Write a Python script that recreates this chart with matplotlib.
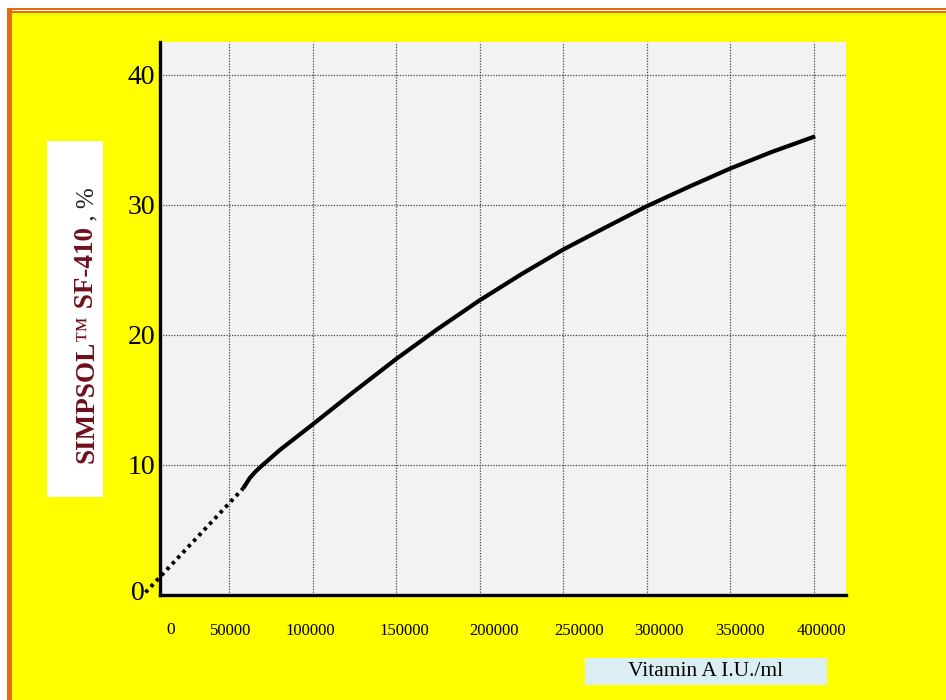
import matplotlib
matplotlib.use("Agg")
from matplotlib import pyplot as plt
from matplotlib import patches as patches
from matplotlib.transforms import ScaledTranslation

# data
dotted_x = [0, 30000, 58500]
dotted_y = [0.2, 4.3, 8.2]
curve_x = [58500, 62500, 66000, 69800, 80500, 100000, 125000, 150000, 175000,
           200000, 225000, 250000, 275000, 300000, 325000, 350000, 375000, 401000]
curve_y = [8.2, 9.0, 9.5, 9.95, 11.15, 13.1, 15.65, 18.13, 20.45,
           22.64, 24.65, 26.54, 28.22, 29.87, 31.35, 32.77, 34.05, 35.25]
x_ticks = [0, 50000, 100000, 150000, 200000, 250000, 300000, 350000, 400000]
x_ticklabels = ['0', '50000', '100000', '150000', '200000', '250000', '300000', '350000', '400000']
y_ticks = [0, 10, 20, 30, 40]
y_ticklabels = ['0', '10', '20', '30', '40']

W, H = 946, 700
plt.rcParams['font.family'] = ['Liberation Serif', 'DejaVu Serif']

fig = plt.figure(figsize=(W / 100, H / 100), dpi=100)
fig.patch.set_facecolor('white')


def box(x0, y0, x1, y1, color):
    # pixel box (top-left origin) drawn on the figure
    r = patches.Rectangle((x0 / W, 1 - y1 / H), (x1 - x0) / W, (y1 - y0) / H,
                          transform=fig.transFigure, facecolor=color,
                          edgecolor='none', zorder=-5)
    fig.patches.append(r)


orange = '#e46c0a'
box(12, 13, W, H, '#ffff00')
box(7, 8, W, 10, orange)
box(7, 11, W, 13, orange)
box(7, 8, 12, H, orange)
box(47, 141, 103, 497, 'white')
box(585, 658, 827, 685, '#daeef3')

ax = fig.add_axes([160 / W, 1 - 595 / H, 686 / W, 553 / H])
ax.set_facecolor('#f2f2f2')
ax.set_xlim(8680, 419460)
ax.set_ylim(0, 42.5)

ax.plot(dotted_x, dotted_y, color='black', lw=2.8, linestyle=(0, (0.9, 1.1)),
        clip_on=False, zorder=6)
ax.plot(curve_x, curve_y, color='black', lw=3, solid_capstyle='butt',
        solid_joinstyle='round', zorder=4)

for s in ['top', 'right']:
    ax.spines[s].set_visible(False)
for s in ['left', 'bottom']:
    ax.spines[s].set_linewidth(2.4)
    ax.spines[s].set_zorder(5)

ax.set_xticks(x_ticks[1:])
ax.set_xticklabels(x_ticklabels[1:], fontsize=12)
ax.set_yticks(y_ticks)
ax.set_yticklabels(y_ticklabels, fontsize=20)
ax.tick_params(axis='x', length=0, pad=20)
ax.tick_params(axis='y', length=0, pad=3.5)
ax.grid(True, color='#444444', linestyle=(0, (1, 1.2)), linewidth=0.9)
ax.set_axisbelow(True)

# labels in the original sit a bit off their grid lines
x_nudge_px = [25.5, 2, -2.5, 8, 14, 16, 12, 9.5, 8]
for lab, dx in zip(ax.get_xticklabels(), x_nudge_px[1:]):
    lab.set_transform(lab.get_transform() + ScaledTranslation(dx / 100, 0, fig.dpi_scale_trans))
ax.text(0, 0, x_ticklabels[0], fontsize=12.5, ha='center', va='center',
        transform=ax.get_xaxis_transform() + ScaledTranslation(x_nudge_px[0] / 100, -35 / 100, fig.dpi_scale_trans))
ylab0 = ax.get_yticklabels()[0]
ylab0.set_transform(ylab0.get_transform() + ScaledTranslation(-10 / 100, 4 / 100, fig.dpi_scale_trans))

# x label in its blue box
fig.text(706 / W, 1 - 672 / H, 'Vitamin A I.U./ml', fontsize=15.5, ha='center', va='center')

# y label: pieces stacked upwards
maroon = '#6e0f1c'
pieces = [('SIMPSOL', 'bold', maroon, 19.5),
          ('\u2122', 'normal', maroon, 19),
          (' SF-410', 'bold', maroon, 19.5),
          (' , %', 'normal', '#222222', 18)]
renderer = fig.canvas.get_renderer()
y_pos = H - 463
for txt, weight, col, size in pieces:
    t = fig.text(93 / W, y_pos / H, txt, rotation=90, rotation_mode='anchor',
                 ha='left', va='baseline', fontsize=size, fontweight=weight, color=col)
    y_pos += t.get_window_extent(renderer).height

fig.savefig('out.png', dpi=100)
